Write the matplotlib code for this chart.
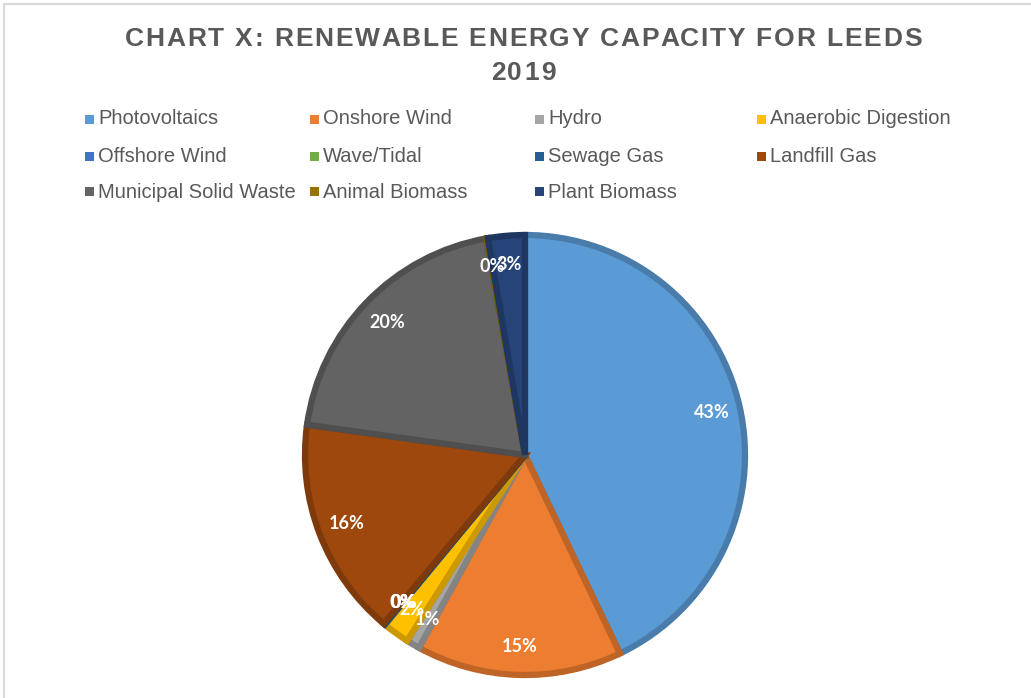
import matplotlib
matplotlib.use("Agg")
import matplotlib.pyplot as plt
from matplotlib.patches import Rectangle
import matplotlib.colors as mcolors

categories = ["Photovoltaics", "Onshore Wind", "Hydro", "Anaerobic Digestion",
              "Offshore Wind", "Wave/Tidal", "Sewage Gas", "Landfill Gas",
              "Municipal Solid Waste", "Animal Biomass", "Plant Biomass"]
shares = [42.9, 15.1, 1.0, 2.0, 0.0, 0.0, 0.1, 16.1, 20.0, 0.1, 2.7]
colors = ["#5B9BD5", "#ED7D31", "#A5A5A5", "#FFC000", "#4472C4", "#70AD47",
          "#255E91", "#9E480E", "#636363", "#997300", "#264478"]
title_lines = ["CHART X: RENEWABLE ENERGY CAPACITY FOR LEEDS", "2019"]

W, H = 1031, 698
fig = plt.figure(figsize=(W / 100, H / 100), dpi=100)
fig.patch.set_facecolor("white")
renderer = fig.canvas.get_renderer()

# outer chart border (top/left visible)
fig.add_artist(Rectangle((4 / W, -0.05), 1.2, (H - 4) / H + 0.05, transform=fig.transFigure,
                         fill=False, edgecolor="#D9D9D9", linewidth=1.5))

# title drawn with letter spacing
tprops = dict(fontsize=19, fontweight="bold", color="#595959", family="Liberation Sans")


def text_w(s):
    t = fig.text(0, 0, s + "|", **tprops)
    w1 = t.get_window_extent(renderer).width
    t.remove()
    t = fig.text(0, 0, "|", **tprops)
    w0 = t.get_window_extent(renderer).width
    t.remove()
    return w1 - w0


def spaced_title(s, xc, yc, target_w):
    base = text_w(s)
    n = len(s)
    sp = (target_w - base) / (n - 1) if n > 1 and target_w > base else 0.0
    x0 = xc - (base + sp * (n - 1)) / 2
    for i, ch in enumerate(s):
        if ch == " ":
            continue
        x = x0 + text_w(s[:i]) + sp * i
        fig.text(x / W, 1 - yc / H, ch, ha="left", va="center_baseline", **tprops)


spaced_title(title_lines[0], 523, 37, 797)
spaced_title(title_lines[1], 523, 70, text_w(title_lines[1]) + 6)

# legend (manual grid, 4 columns)
col_x = [89, 314, 539, 761]
row_y = [119, 156, 192]
for i, (lab, c) in enumerate(zip(categories, colors)):
    r, cidx = divmod(i, 4)
    x, y = col_x[cidx], row_y[r]
    fig.add_artist(Rectangle(((x - 4.5) / W, 1 - (y + 4.5) / H), 9 / W, 9 / H,
                             transform=fig.transFigure, facecolor=c, edgecolor="none"))
    fig.text((x + 9) / W, 1 - y / H, lab, ha="left", va="center", fontsize=14.5,
             color="#595959", family="Liberation Sans")

# pie
cx, cy, R = 525, 455, 220
ax = fig.add_axes([(cx - R) / W, 1 - (cy + R) / H, 2 * R / W, 2 * R / H])
wedges, texts, autotexts = ax.pie(
    shares, colors=colors, startangle=90, counterclock=False,
    autopct="%.0f%%", pctdistance=0.87, radius=1.0,
    wedgeprops=dict(linewidth=0),
    textprops=dict(color="white", fontsize=13, fontweight="bold", family="Lato"))
for w, c in zip(wedges, colors):
    rgb = mcolors.to_rgb(c)
    dark = tuple(v * 0.8 for v in rgb)
    w.set_edgecolor(dark)
    w.set_linewidth(4.5)
    w.set_joinstyle("miter")
    w.set_clip_on(False)
ax.set_xlim(-1, 1)
ax.set_ylim(-1, 1)
ax.set_aspect("equal")
ax.axis("off")

fig.savefig("out.png", dpi=100, facecolor="white")
